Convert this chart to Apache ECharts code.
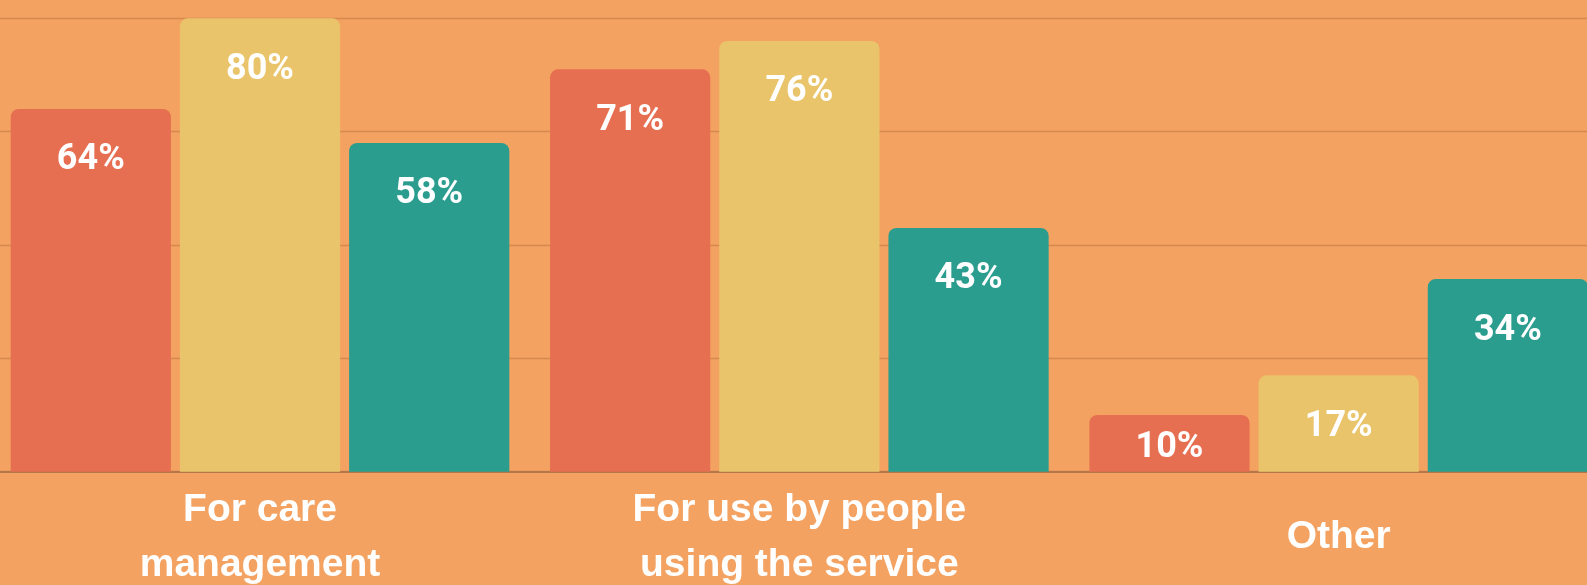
<!DOCTYPE html>
<html>
<head>
<meta charset="utf-8">
<script src="https://cdn.jsdelivr.net/npm/echarts@6/dist/echarts.min.js"></script>
<style>
  html, body { margin: 0; padding: 0; background: #F4A261; overflow: hidden; }
  #chart { width: 1587px; height: 585px; }
</style>
</head>
<body>
<div id="chart"></div>
<script>
const categories = ['For care\nmanagement', 'For use by people\nusing the service', 'Other'];
const seriesNames = ['Group 1', 'Group 2', 'Group 3'];
const valuesRed = [64, 71, 10];
const valuesYellow = [80, 76, 17];
const valuesTeal = [58, 43, 34];
const yTicks = [0, 20, 40, 60, 80];

const colors = ['#E76F51', '#E9C46A', '#2A9D8F'];
const allValues = [valuesRed, valuesYellow, valuesTeal];

const chart = echarts.init(document.getElementById('chart'), null, { renderer: 'canvas' });

const series = allValues.map((vals, i) => ({
  name: seriesNames[i],
  type: 'bar',
  data: vals,
  barGap: '5.6%',
  barCategoryGap: '7.55%',
  itemStyle: { color: colors[i], borderRadius: [8, 8, 0, 0] },
  label: {
    show: true,
    position: 'insideTop',
    formatter: '{c}%',
    color: '#ffffff',
    fontFamily: 'Roboto',
    fontWeight: 'bold',
    fontSize: 36
  },
  labelLayout: function (params) {
    const r = params.rect;
    return {
      x: r.x + r.width / 2,
      y: r.y + Math.min(47, r.height / 2) + 4.5,
      align: 'center',
      verticalAlign: 'middle'
    };
  },
  emphasis: { disabled: true },
  animation: false
}));

chart.setOption({
  backgroundColor: '#F4A261',
  animation: false,
  grid: {
    left: -9.65, width: 1618, top: 18.3, height: 453.4,
    containLabel: false,
    outerBoundsMode: 'none'
  },
  xAxis: {
    type: 'category',
    data: categories,
    axisLine: { show: true, lineStyle: { color: '#B5764A', width: 2 } },
    axisTick: { show: false },
    axisLabel: {
      color: '#ffffff',
      fontFamily: 'Liberation Sans',
      fontWeight: 'bold',
      fontSize: 39,
      lineHeight: 55,
      margin: 66,
      verticalAlign: 'middle',
      align: 'center',
      interval: 0,
      hideOverlap: false
    }
  },
  yAxis: {
    type: 'value',
    min: yTicks[0],
    max: yTicks[yTicks.length - 1],
    interval: yTicks[1] - yTicks[0],
    axisLine: { show: false },
    axisTick: { show: false },
    axisLabel: { show: false },
    splitLine: { show: true, lineStyle: { color: '#D4894F', width: 1.3 } }
  },
  series: series
});
</script>
</body>
</html>
